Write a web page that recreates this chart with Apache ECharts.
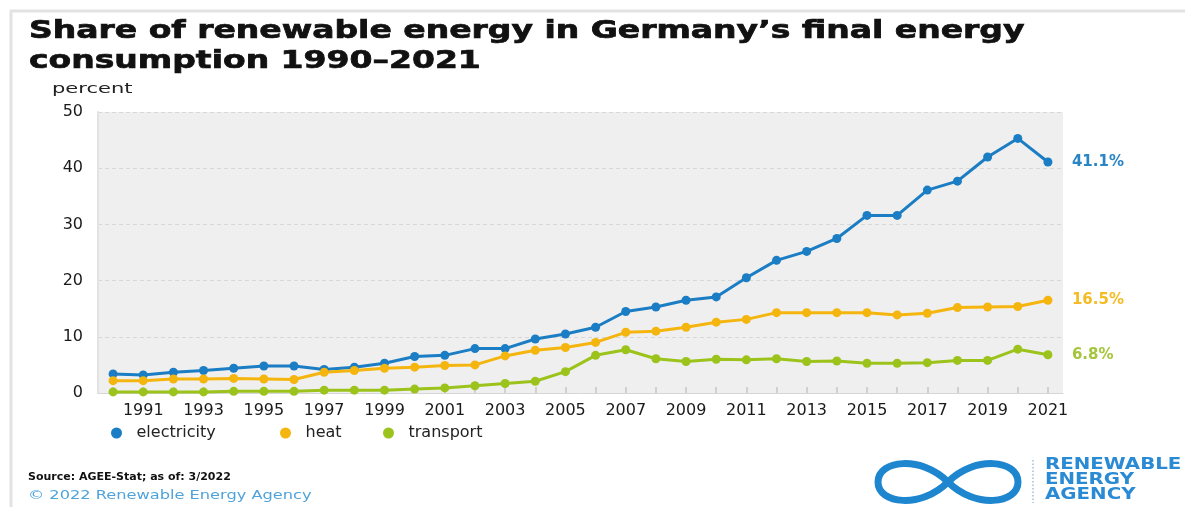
<!DOCTYPE html>
<html>
<head>
<meta charset="utf-8">
<script src="https://cdn.jsdelivr.net/npm/echarts@6/dist/echarts.min.js"></script>
<style>
html,body{margin:0;padding:0;background:#fff;}
#chart{width:1185px;height:507px;}
</style>
</head>
<body>
<div id="chart"></div>
<script>
// ---- data ----
const years = ['1990','1991','1992','1993','1994','1995','1996','1997','1998','1999','2000','2001','2002','2003','2004','2005','2006','2007','2008','2009','2010','2011','2012','2013','2014','2015','2016','2017','2018','2019','2020','2021'];
const electricity = [3.4,3.2,3.7,4.0,4.4,4.8,4.8,4.2,4.6,5.3,6.5,6.7,7.9,7.9,9.6,10.5,11.7,14.5,15.3,16.5,17.1,20.5,23.6,25.2,27.5,31.6,31.6,36.1,37.7,42.0,45.3,41.1];
const heat = [2.2,2.2,2.5,2.5,2.6,2.5,2.4,3.7,4.0,4.4,4.6,4.9,5.0,6.6,7.6,8.1,9.0,10.8,11.0,11.7,12.6,13.1,14.3,14.3,14.3,14.3,13.9,14.2,15.2,15.3,15.4,16.5];
const transport = [0.2,0.2,0.2,0.2,0.3,0.3,0.3,0.5,0.5,0.5,0.7,0.9,1.3,1.7,2.1,3.8,6.7,7.7,6.1,5.6,6.0,5.9,6.1,5.6,5.7,5.3,5.3,5.4,5.8,5.8,7.8,6.8];
const seriesNames = ['electricity','heat','transport'];
const endLabels = ['41.1%','16.5%','6.8%'];
const yTicks = [0,10,20,30,40,50];

const colors = ['#1b7dc3','#f5b50f','#9cc31b'];
const labelColors = ['#2a85c5','#f4bb22','#a5c63a'];
const seriesData = [electricity, heat, transport];
const legendLeft = [106, 275, 378];

const chart = echarts.init(document.getElementById('chart'), null, {renderer:'canvas'});

const series = seriesNames.map((name,i)=>({
  name: name,
  type: 'line',
  data: seriesData[i],
  symbol: 'circle',
  symbolSize: 9,
  itemStyle: {color: colors[i]},
  lineStyle: {color: colors[i], width: 3},
  emphasis: {disabled: true},
  animation: false,
  endLabel: {
    show: true,
    formatter: endLabels[i],
    color: labelColors[i],
    fontFamily: 'DejaVu Sans',
    fontWeight: 'bold',
    fontSize: 15,
    distance: 24
  }
}));

const legends = seriesNames.map((name,i)=>({
  data: [name],
  left: legendLeft[i], top: 420,
  icon: 'circle',
  itemWidth: 14, itemHeight: 11,
  textStyle: {fontFamily: 'DejaVu Sans', fontSize: 16, color: '#222', padding: [0,0,0,8]}
}));

// logo figure-eight built from four cubic curves
const logoCurves = [
  [948,482, 975,455, 1018,460, 1018,482],
  [1018,482, 1018,504, 975,509, 948,482],
  [948,482, 921,455, 878,460, 878,482],
  [878,482, 878,504, 921,509, 948,482]
];
const logoGraphics = logoCurves.map(c => ({
  type: 'bezierCurve', silent: true,
  shape: {x1:c[0], y1:c[1], cpx1:c[2], cpy1:c[3], cpx2:c[4], cpy2:c[5], x2:c[6], y2:c[7]},
  style: {fill: 'none', stroke: '#1e86cf', lineWidth: 7}
}));

const option = {
  animation: false,
  backgroundColor: '#ffffff',
  grid: {
    left: 98, right: 122, top: 112, bottom: 114,
    show: true, backgroundColor: '#efefef', borderWidth: 0
  },
  legend: legends,
  xAxis: {
    type: 'category',
    data: years,
    boundaryGap: true,
    axisLine: {show: true, lineStyle: {color: '#d6d6d6', width: 1}},
    axisTick: {show: true, inside: true, length: 6, alignWithLabel: true, interval: 0, lineStyle: {color: '#d0d0d0', width: 2}},
    axisLabel: {
      interval: function(i){ return i % 2 === 1; },
      fontFamily: 'DejaVu Sans', fontSize: 16, color: '#1a1a1a', margin: 10
    },
    splitLine: {show: false}
  },
  yAxis: {
    type: 'value',
    min: yTicks[0], max: yTicks[yTicks.length-1], interval: 10,
    axisLine: {show: true, lineStyle: {color: '#e2e2e2', width: 2}},
    axisTick: {show: false},
    axisLabel: {fontFamily: 'DejaVu Sans', fontSize: 16, color: '#1a1a1a', margin: 15},
    splitLine: {show: true, lineStyle: {color: '#d7d7d7', type: [4,3], width: 1}}
  },
  series: series,
  graphic: [
    // frame
    {type:'line', silent:true, shape:{x1:10,y1:11,x2:1185,y2:11}, style:{stroke:'#e3e3e3', lineWidth:3}},
    {type:'line', silent:true, shape:{x1:11,y1:10,x2:11,y2:507}, style:{stroke:'#e3e3e3', lineWidth:3}},
    // title
    {type:'text', x: 29, y: 17, scaleX: 1.32, style:{
      text: 'Share of renewable energy in Germany’s final energy\nconsumption 1990–2021',
      fontFamily: 'DejaVu Sans', fontWeight: 'bold', fontSize: 25, lineHeight: 29.5, fill: '#111',
      stroke: '#111', lineWidth: 0.7
    }},
    // axis unit
    {type:'text', x: 52, y: 82, scaleX: 1.5, style:{
      text: 'percent', fontFamily: 'DejaVu Sans', fontSize: 14, fill: '#222'
    }},
    // footer
    {type:'text', x: 28, y: 472, style:{
      text: 'Source: AGEE-Stat; as of: 3/2022', fontFamily: 'DejaVu Sans', fontWeight: 'bold', fontSize: 11, fill: '#111'
    }},
    {type:'text', x: 28, y: 490, scaleX: 1.35, style:{
      text: '© 2022 Renewable Energy Agency', fontFamily: 'DejaVu Sans', fontSize: 12, fill: '#4fa3da'
    }},
    // logo
    ...logoGraphics,
    {type:'line', silent:true, shape:{x1:1033,y1:460,x2:1033,y2:503}, style:{stroke:'#9cc0dc', lineWidth:1.5, lineDash:[1.5,2]}},
    {type:'text', x: 1045, y: 458, scaleX: 1.32, style:{
      text: 'RENEWABLE\nENERGY\nAGENCY', fontFamily: 'DejaVu Sans', fontWeight: 'bold', fontSize: 15, lineHeight: 15, fill: '#2a8ad4'
    }}
  ]
};
chart.setOption(option);
</script>
</body>
</html>
